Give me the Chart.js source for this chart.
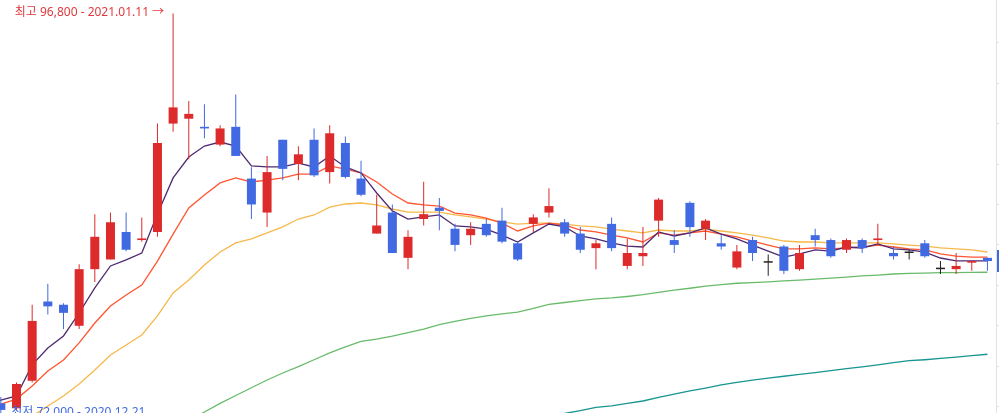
<!DOCTYPE html>
<html><head><meta charset="utf-8">
<script src="https://cdn.jsdelivr.net/npm/chart.js@4.4.1/dist/chart.umd.min.js"></script>
<style>
html,body{margin:0;padding:0;background:#fff;overflow:hidden;width:999px;height:413px}
#wrap{position:relative;width:999px;height:413px}
canvas{display:block}
</style></head>
<body><div id="wrap"><canvas id="c" width="999" height="413"></canvas></div>
<script>
// ---- data (Samsung-style daily candles, 2020.12.21 ~ 2021.03.29) ----
const dates = ['2020.12.21','2020.12.22','2020.12.23','2020.12.24','2020.12.28','2020.12.29','2020.12.30',
 '2021.01.04','2021.01.05','2021.01.06','2021.01.07','2021.01.08','2021.01.11','2021.01.12','2021.01.13','2021.01.14','2021.01.15',
 '2021.01.18','2021.01.19','2021.01.20','2021.01.21','2021.01.22','2021.01.25','2021.01.26','2021.01.27','2021.01.28','2021.01.29',
 '2021.02.01','2021.02.02','2021.02.03','2021.02.04','2021.02.05','2021.02.08','2021.02.09','2021.02.10',
 '2021.02.15','2021.02.16','2021.02.17','2021.02.18','2021.02.19','2021.02.22','2021.02.23','2021.02.24','2021.02.25','2021.02.26',
 '2021.03.02','2021.03.03','2021.03.04','2021.03.05','2021.03.08','2021.03.09','2021.03.10','2021.03.11','2021.03.12',
 '2021.03.15','2021.03.16','2021.03.17','2021.03.18','2021.03.19','2021.03.22','2021.03.23','2021.03.24','2021.03.25','2021.03.26','2021.03.29'];
const opens  = [73100,72700,72400,74100,79000,78800,77500,81000,81600,83300,82800,83300,90000,90300,89800,88700,89800,86600,84500,89000,87500,89000,87000,88800,86600,83200,84500,81700,84100,84800,83500,83100,83800,84000,82600,83800,84500,83900,83200,82300,83800,81200,81800,84000,82800,85100,83500,82600,81100,82800,81400,82400,81000,83100,82800,82200,82800,82800,82000,82000,82600,81000,81000,81400,81700];
const highs  = [73400,73100,74000,78800,80100,78900,81300,84400,84500,84500,84200,90000,96800,91400,91200,89900,91800,87300,88000,89000,88600,89700,89900,89200,87700,85600,85000,83400,86400,85400,83800,83900,84100,84800,82700,84400,86000,84100,83600,82800,84200,82900,83600,85400,83400,85200,84100,83100,82500,83000,81900,82500,82500,83500,82900,82900,82900,83800,82400,82200,82800,81500,82000,81500,81700];
const lows   = [72000,72100,72300,74000,78200,77300,77300,80200,81600,82100,82700,83000,89500,87800,89100,88600,88000,84100,83600,86500,86500,86700,86300,86600,85500,83200,82000,81000,83700,83400,82100,82500,83000,82600,81500,83300,84200,83000,82000,81000,82100,81000,81200,83000,82000,83000,82800,82200,81000,81500,80600,80700,80900,82400,81700,82000,82000,82500,81600,81600,81700,80700,80700,80900,80900];
const closes = [73000,72300,73900,77800,78700,78300,81000,83000,83900,82200,82900,88800,91000,90600,89700,89700,88000,85000,87000,87200,88100,86800,89400,86700,85600,83700,82000,83000,84400,84600,82500,83500,83100,82700,81600,84200,84900,83200,82200,82600,82300,82000,82000,85300,82500,83600,84000,82400,82100,82000,81400,80900,82000,82800,81800,82800,82300,82900,81800,82000,81800,81000,81200,81500,81500];
const ma5   = [72660,72910,73160,75080,76130,76870,78290,79840,81200,81570,82000,84410,86640,87930,88610,88860,88610,87380,87320,87320,87560,87320,88000,87320,86950,85710,84600,84100,84230,84350,83670,83610,83480,83110,82680,83240,83790,83610,83050,82870,82620,82430,82370,83300,83050,83240,83550,83170,82870,82490,82120,81750,81940,82190,82120,82370,82310,82560,82250,82190,82060,81690,81510,81510,81510];
const ma10  = [72420,72660,72970,73780,74700,75390,76440,77670,78720,79400,80020,81500,83170,84780,85590,86330,86640,86390,86510,86640,86880,86880,87380,87190,86950,86390,85650,85090,84970,84900,84470,84350,84160,83850,83360,83670,83850,83730,83420,83300,83110,82930,82680,83240,83110,83240,83360,83170,82990,82740,82490,82250,82250,82310,82250,82310,82370,82490,82370,82250,82190,81940,81810,81750,81750];
const ma20  = [69940,70560,71240,71920,72540,73160,73900,74770,75690,76310,76930,78110,79530,80330,81260,82060,82620,82870,83240,83610,84100,84350,84840,85030,85090,84970,84720,84530,84530,84530,84350,84230,84100,83920,83790,83850,83850,83790,83670,83610,83480,83360,83240,83420,83360,83360,83480,83360,83240,83110,82930,82740,82680,82680,82620,82620,82620,82620,82560,82490,82430,82310,82250,82190,82060];
const ma60  = [null,null,null,null,null,null,null,null,null,null,null,null,null,71610,72170,72700,73190,73670,74150,74580,74980,75400,75830,76190,76530,76680,76860,77070,77300,77570,77770,77960,78110,78230,78350,78570,78820,78940,79050,79160,79220,79310,79420,79560,79700,79820,79950,80040,80130,80170,80210,80270,80320,80380,80440,80510,80580,80630,80700,80740,80760,80780,80790,80800,80810];
const ma120 = [null,null,null,null,null,null,null,null,null,null,null,null,null,null,null,null,null,null,null,null,null,null,null,null,null,null,null,null,null,null,null,null,null,null,null,null,71860,72080,72250,72450,72550,72700,72850,73080,73280,73470,73650,73840,74000,74140,74270,74380,74500,74610,74730,74850,74960,75080,75220,75340,75400,75480,75560,75650,75740];
const yTickValues = [72500,75000,77500,80000,82500,85000,87500,90000,92500,95000];
const highLabel = '최고 96,800 - 2021.01.11 →';
const lowLabel  = '최저 72,000 - 2020.12.21';

const UP = '#dd2a2a', DOWN = '#4169e1', FLAT = '#222222';
const colors = closes.map((c,i)=> c>opens[i] ? UP : (c<opens[i] ? DOWN : FLAT));
const pts = arr => arr.map((v,i)=>({x:i, y:v}));

const annot = {
  id:'annot',
  afterDraw(chart){
    const ctx = chart.ctx, ys = chart.scales.y, xs = chart.scales.x;
    ctx.save();
    ctx.font = '12px "Noto Sans", "Noto Sans CJK KR", sans-serif';
    ctx.textBaseline = 'middle';
    const hi = highs.indexOf(Math.max(...highs));
    ctx.fillStyle = '#e0393e'; ctx.textAlign = 'right';
    ctx.fillText(highLabel, xs.getPixelForValue(hi) - 9, ys.getPixelForValue(highs[hi]) - 1);
    const lo = lows.indexOf(Math.min(...lows));
    ctx.fillStyle = '#4169e1'; ctx.textAlign = 'left';
    ctx.fillText(lowLabel, xs.getPixelForValue(lo) + 26, ys.getPixelForValue(lows[lo]) - 2);
    const py = ys.getPixelForValue(closes[closes.length-1]);
    ctx.fillStyle = DOWN;
    ctx.fillRect(chart.chartArea.right + 1, Math.round(py) - 11, 60, 22);
    ctx.restore();
  }
};

new Chart(document.getElementById('c'), {
  data: {
    datasets: [
      {type:'bar', label:'body', data: closes.map((c,i)=>({x:i, y:[opens[i], c]})), backgroundColor: colors,
       grouped:false, maxBarThickness:9, minBarLength:1.5, order:0, borderWidth:0},
      {type:'bar', label:'wick', data: closes.map((c,i)=>({x:i, y:[lows[i], highs[i]]})), backgroundColor: colors,
       grouped:false, maxBarThickness:1, order:1, borderWidth:0},
      {type:'line', label:'MA5', data: pts(ma5), borderColor:'#4e2a72', borderWidth:1.3, pointRadius:0, tension:0, order:2},
      {type:'line', label:'MA10', data: pts(ma10), borderColor:'#ff5530', borderWidth:1.3, pointRadius:0, tension:0, order:3},
      {type:'line', label:'MA20', data: pts(ma20), borderColor:'#f7b84a', borderWidth:1.3, pointRadius:0, tension:0, order:4},
      {type:'line', label:'MA60', data: pts(ma60), borderColor:'#68bb6a', borderWidth:1.3, pointRadius:0, tension:0, order:5},
      {type:'line', label:'MA120', data: pts(ma120), borderColor:'#179591', borderWidth:1.3, pointRadius:0, tension:0, order:6}
    ]
  },
  options: {
    responsive:false, animation:false, devicePixelRatio:1,
    layout:{padding:0},
    plugins:{legend:{display:false}, tooltip:{enabled:false}},
    scales:{
      x:{type:'linear', display:false, min:0.946, max:64.546, offset:false},
      y:{type:'linear', position:'right', min:72108, max:97640,
         afterBuildTicks: s => { s.ticks = yTickValues.map(v=>({value:v})); },
         afterFit: s => { s.width = 3; },
         ticks:{display:false},
         grid:{drawOnChartArea:false, drawTicks:true, tickLength:5, color:'#e2e2e2'},
         border:{display:true, color:'#e2e2e2', width:1}}
    }
  },
  plugins:[annot]
});
</script>
</body></html>
